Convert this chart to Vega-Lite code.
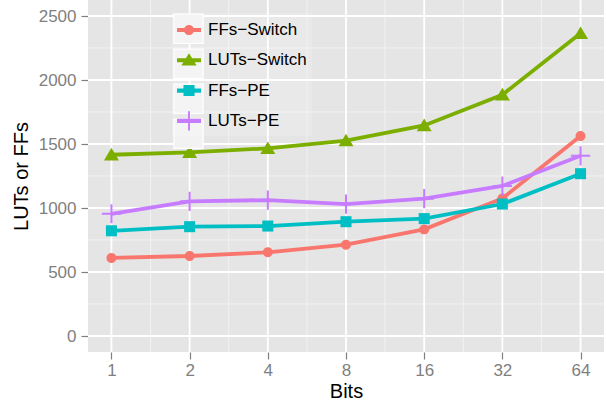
{
  "$schema": "https://vega.github.io/schema/vega-lite/v6.json",
  "width": 516,
  "height": 352,
  "autosize": {"type": "none"},
  "padding": {"left": 88, "top": 0, "right": 3, "bottom": 52},
  "background": "white",
  "config": {
    "view": {"fill": "#E5E5E5", "stroke": null},
    "font": "Liberation Sans",
    "axis": {
      "domain": false, "grid": false,
      "tickColor": "#7F7F7F", "tickSize": 7, "tickWidth": 1.2,
      "labelColor": "#7F7F7F", "labelFontSize": 17, "labelFont": "Liberation Sans",
      "titleFont": "Liberation Sans", "titleFontSize": 20, "titleFontWeight": "normal", "titleColor": "#000000"
    },
    "axisX": {"labelPadding": 3, "titlePadding": 3},
    "axisY": {"labelPadding": 5, "titlePadding": 7}
  },
  "datasets": {
    "series": [
      {"Bits": 1, "value": 610, "series": "FFs−Switch"},
      {"Bits": 2, "value": 625, "series": "FFs−Switch"},
      {"Bits": 4, "value": 654, "series": "FFs−Switch"},
      {"Bits": 8, "value": 713, "series": "FFs−Switch"},
      {"Bits": 16, "value": 833, "series": "FFs−Switch"},
      {"Bits": 32, "value": 1075, "series": "FFs−Switch"},
      {"Bits": 64, "value": 1562, "series": "FFs−Switch"},
      {"Bits": 1, "value": 1416, "series": "LUTs−Switch"},
      {"Bits": 2, "value": 1435, "series": "LUTs−Switch"},
      {"Bits": 4, "value": 1466, "series": "LUTs−Switch"},
      {"Bits": 8, "value": 1526, "series": "LUTs−Switch"},
      {"Bits": 16, "value": 1645, "series": "LUTs−Switch"},
      {"Bits": 32, "value": 1885, "series": "LUTs−Switch"},
      {"Bits": 64, "value": 2365, "series": "LUTs−Switch"},
      {"Bits": 1, "value": 822, "series": "FFs−PE"},
      {"Bits": 2, "value": 854, "series": "FFs−PE"},
      {"Bits": 4, "value": 859, "series": "FFs−PE"},
      {"Bits": 8, "value": 893, "series": "FFs−PE"},
      {"Bits": 16, "value": 917, "series": "FFs−PE"},
      {"Bits": 32, "value": 1031, "series": "FFs−PE"},
      {"Bits": 64, "value": 1268, "series": "FFs−PE"},
      {"Bits": 1, "value": 955, "series": "LUTs−PE"},
      {"Bits": 2, "value": 1052, "series": "LUTs−PE"},
      {"Bits": 4, "value": 1062, "series": "LUTs−PE"},
      {"Bits": 8, "value": 1031, "series": "LUTs−PE"},
      {"Bits": 16, "value": 1073, "series": "LUTs−PE"},
      {"Bits": 32, "value": 1172, "series": "LUTs−PE"},
      {"Bits": 64, "value": 1408, "series": "LUTs−PE"}
    ],
    "minorX": [{"Bits": 1.4142}, {"Bits": 2.8284}, {"Bits": 5.6569}, {"Bits": 11.3137}, {"Bits": 22.6274}, {"Bits": 45.2548}],
    "minorY": [{"value": 250}, {"value": 750}, {"value": 1250}, {"value": 1750}, {"value": 2250}],
    "majorX": [{"Bits": 1}, {"Bits": 2}, {"Bits": 4}, {"Bits": 8}, {"Bits": 16}, {"Bits": 32}, {"Bits": 64}],
    "majorY": [{"value": 0}, {"value": 500}, {"value": 1000}, {"value": 1500}, {"value": 2000}, {"value": 2500}]
  },
  "layer": [
    {
      "data": {"name": "minorX"},
      "mark": {"type": "rule", "color": "#F2F2F2", "strokeWidth": 1},
      "encoding": {
        "x": {"field": "Bits", "type": "quantitative", "title": "Bits",
              "scale": {"type": "log", "base": 2, "domain": [0.8123, 78.79], "nice": false}}
      }
    },
    {
      "data": {"name": "minorY"},
      "mark": {"type": "rule", "color": "#F2F2F2", "strokeWidth": 1},
      "encoding": {
        "y": {"field": "value", "type": "quantitative", "title": "LUTs or FFs",
              "scale": {"domain": [-125, 2625], "nice": false, "zero": false}}
      }
    },
    {
      "data": {"name": "majorX"},
      "mark": {"type": "rule", "color": "#FFFFFF", "strokeWidth": 1.8},
      "encoding": {
        "x": {"field": "Bits", "type": "quantitative", "title": "Bits"}
      }
    },
    {
      "data": {"name": "majorY"},
      "mark": {"type": "rule", "color": "#FFFFFF", "strokeWidth": 1.8},
      "encoding": {
        "y": {"field": "value", "type": "quantitative", "title": "LUTs or FFs"}
      }
    },
    {
      "data": {"name": "series"},
      "mark": {"type": "point", "opacity": 0, "filled": true},
      "encoding": {
        "x": {"field": "Bits", "type": "quantitative", "title": "Bits"},
        "y": {"field": "value", "type": "quantitative", "title": "LUTs or FFs"},
        "fill": {
          "field": "series", "type": "nominal",
          "scale": {"domain": ["LUTs−PE", "FFs−PE", "LUTs−Switch", "FFs−Switch"],
                    "range": ["#F2F2F2", "#F2F2F2", "#F2F2F2", "#F2F2F2"]},
          "legend": {
            "orient": "none", "legendX": 84, "legendY": 12.3, "title": null, "zindex": 0,
            "values": ["FFs−Switch", "LUTs−Switch", "FFs−PE", "LUTs−PE"],
            "padding": 1,
            "labelExpr": "''", "labelFontSize": 17, "labelOffset": 0,
            "rowPadding": 0, "symbolSize": 853, "symbolType": "square",
            "encode": {
              "symbols": {
                "update": {
                  "shape": {"value": "square"},
                  "fill": {"value": "#F2F2F2"},
                  "stroke": {"value": "#FFFFFF"},
                  "strokeWidth": {"value": 1.2},
                  "opacity": {"value": 1}
                }
              }
            }
          }
        }
      }
    },
    {
      "data": {"name": "series"},
      "mark": {"type": "line", "strokeWidth": 3.8},
      "encoding": {
        "x": {"field": "Bits", "type": "quantitative", "title": "Bits",
              "axis": {"values": [1, 2, 4, 8, 16, 32, 64], "format": "d"}},
        "y": {"field": "value", "type": "quantitative", "title": "LUTs or FFs",
              "axis": {"values": [0, 500, 1000, 1500, 2000, 2500], "format": "d"}},
        "stroke": {
          "field": "series", "type": "nominal",
          "scale": {"domain": ["FFs−Switch", "LUTs−Switch", "FFs−PE", "LUTs−PE"],
                    "range": ["#F8766D", "#7CAE00", "#00BFC4", "#C77CFF"]},
          "legend": {
            "orient": "none", "legendX": 84, "legendY": 13, "title": null, "zindex": 1,
            "padding": 5, "fillColor": "rgba(255,255,255,0.15)",
            "labelFontSize": 17, "labelColor": "#000000", "labelFont": "Liberation Sans",
            "labelOffset": 7, "rowPadding": 10.3, "symbolSize": 576,
            "symbolStrokeWidth": 0,
            "encode": {
              "symbols": {
                "update": {
                  "shape": {"signal": "datum.value === 'FFs−Switch' ? 'M-1,-0.17H1V0.17H-1ZM0.42,0A0.42,0.42 0 1,1 -0.42,0A0.42,0.42 0 1,1 0.42,0Z' : datum.value === 'LUTs−Switch' ? 'M-1,-0.17H1V0.17H-1ZM0,-0.58L0.64,0.44L-0.64,0.44Z' : datum.value === 'FFs−PE' ? 'M-1,-0.17H1V0.17H-1ZM-0.46,-0.46H0.46V0.46H-0.46Z' : 'M-1,-0.17H1V0.17H-1ZM-0.08,-0.8H0.08V0.8H-0.08Z'"},
                  "fill": {"scale": "stroke", "field": "value"},
                  "stroke": {"value": "transparent"},
                  "strokeWidth": {"value": 0},
                  "opacity": {"value": 1}
                }
              }
            }
          }
        },
        "detail": {"field": "series"}
      }
    },
    {
      "data": {"name": "series"},
      "transform": [{"filter": "datum.series === 'FFs−Switch'"}],
      "mark": {"type": "point", "filled": true, "size": 144, "opacity": 1, "strokeWidth": 0, "color": "#F8766D",
               "shape": "M0.83,0A0.83,0.83 0 1,1 -0.83,0A0.83,0.83 0 1,1 0.83,0Z"},
      "encoding": {
        "x": {"field": "Bits", "type": "quantitative", "title": "Bits"},
        "y": {"field": "value", "type": "quantitative", "title": "LUTs or FFs"}
      }
    },
    {
      "data": {"name": "series"},
      "transform": [{"filter": "datum.series === 'LUTs−Switch'"}],
      "mark": {"type": "point", "filled": true, "size": 144, "opacity": 1, "strokeWidth": 0, "color": "#7CAE00",
               "shape": "M0,-1.15L1.25,0.95L-1.25,0.95Z"},
      "encoding": {
        "x": {"field": "Bits", "type": "quantitative", "title": "Bits"},
        "y": {"field": "value", "type": "quantitative", "title": "LUTs or FFs"}
      }
    },
    {
      "data": {"name": "series"},
      "transform": [{"filter": "datum.series === 'FFs−PE'"}],
      "mark": {"type": "point", "filled": true, "size": 144, "opacity": 1, "strokeWidth": 0, "color": "#00BFC4",
               "shape": "M-0.92,-0.92H0.92V0.92H-0.92Z"},
      "encoding": {
        "x": {"field": "Bits", "type": "quantitative", "title": "Bits"},
        "y": {"field": "value", "type": "quantitative", "title": "LUTs or FFs"}
      }
    },
    {
      "data": {"name": "series"},
      "transform": [{"filter": "datum.series === 'LUTs−PE'"}],
      "mark": {"type": "point", "filled": true, "size": 144, "opacity": 1, "strokeWidth": 0, "color": "#C77CFF",
               "shape": "M-0.17,-1.6H0.17V-0.17H1.6V0.17H0.17V1.6H-0.17V0.17H-1.6V-0.17H-0.17Z"},
      "encoding": {
        "x": {"field": "Bits", "type": "quantitative", "title": "Bits"},
        "y": {"field": "value", "type": "quantitative", "title": "LUTs or FFs"}
      }
    }
  ]
}
